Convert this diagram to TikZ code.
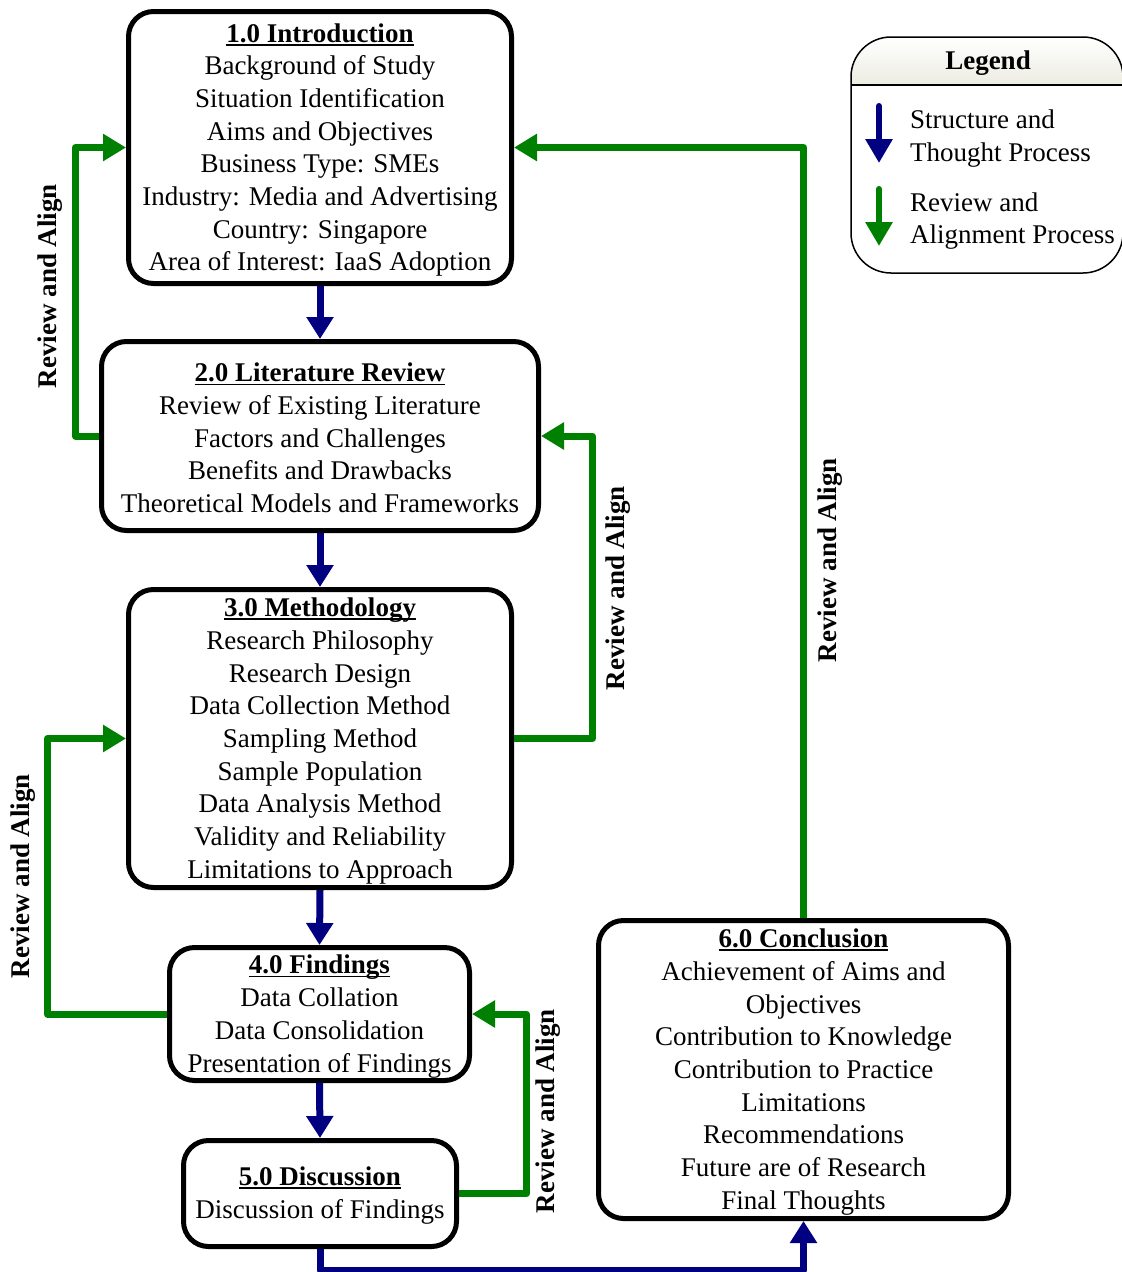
\documentclass[tikz,border=0pt]{standalone}
\usepackage{fontspec}
\setmainfont{Liberation Serif}
\usetikzlibrary{arrows.meta}
\definecolor{flownavy}{HTML}{000080}
\definecolor{revgreen}{HTML}{008000}
\definecolor{legendtint}{HTML}{ECECE2}
% bold heading with a rule just under the baseline
\newcommand{\stagetitle}[1]{\setbox0\hbox{\bfseries #1}\rlap{\rule[-3.5pt]{\wd0}{1.8pt}}\box0}
\begin{document}
\begin{tikzpicture}[x=1pt,y=-1pt,
  stage/.style={draw=black, line width=5pt, rounded corners=25pt, inner sep=0pt},
  stagetext/.style={align=center, inner sep=0pt, font=\fontsize{27}{32.7}\selectfont},
  flow/.style={draw=flownavy, line width=7pt, line join=round,
    -{Triangle[length=22pt,width=26pt]}},
  review/.style={draw=revgreen, line width=7pt, line join=round,
    -{Triangle[length=23pt,width=26pt]}},
  side/.style={rotate=90, font=\fontsize{27}{32.7}\selectfont\bfseries},
  legtext/.style={anchor=west, align=left, inner sep=0pt, font=\fontsize{27}{32.7}\selectfont}]
\useasboundingbox (0,0) rectangle (1122,1272);

% stage frames
\node[stage, minimum width=383pt, minimum height=272pt] (b1) at (320,147.5) {};
\node[stage, minimum width=437pt, minimum height=189pt] (b2) at (320,436) {};
\node[stage, minimum width=383pt, minimum height=298pt] (b3) at (320,738.5) {};
\node[stage, minimum width=300pt, minimum height=133pt] (b4) at (319.5,1014) {};
\node[stage, minimum width=273pt, minimum height=106pt] (b5) at (320,1193.5) {};
\node[stage, minimum width=410pt, minimum height=298pt] (b6) at (803.5,1069.5) {};

% stage contents
\node[stagetext] (b1t) at ([yshift=-2.5pt]b1.center)
  {\stagetitle{1.0 Introduction}\\Background of Study\\Situation Identification\\Aims and Objectives\\Business Type: SMEs\\Industry: Media and Advertising\\Country: Singapore\\Area of Interest: IaaS Adoption};
\node[stagetext] (b2t) at ([yshift=-2pt]b2.center)
  {\stagetitle{2.0 Literature Review}\\Review of Existing Literature\\Factors and Challenges\\Benefits and Drawbacks\\Theoretical Models and Frameworks};
\node[stagetext] (b3t) at ([yshift=-2.5pt]b3.center)
  {\stagetitle{3.0 Methodology}\\Research Philosophy\\Research Design\\Data Collection Method\\Sampling Method\\Sample Population\\Data Analysis Method\\Validity and Reliability\\Limitations to Approach};
\node[stagetext] (b4t) at ([yshift=-2.5pt]b4.center)
  {\stagetitle{4.0 Findings}\\Data Collation\\Data Consolidation\\Presentation of Findings};
\node[stagetext] (b5t) at ([yshift=-2pt]b5.center)
  {\stagetitle{5.0 Discussion}\\Discussion of Findings};
\node[stagetext] (b6t) at ([yshift=-2.5pt]b6.center)
  {\stagetitle{6.0 Conclusion}\\Achievement of Aims and\\Objectives\\Contribution to Knowledge\\Contribution to Practice\\Limitations\\Recommendations\\Future are of Research\\Final Thoughts};

% structure and thought process
\draw[flow] (b1.south) -- (b2.north);
\draw[flow] (b2.south) -- (b3.north);
\draw[flow] (b3.south) -- (b4.north);
\draw[flow] (b4.south) -- (b5.north);
\draw[flow] (b5.south) -- ++(0,21.5) -| (b6.south);

% review and alignment loops
\draw[review] (b2.west) -- ++(-23.5,0) |- (b1.west);
\draw[review] (b3.east) -- ++(78.5,0) |- (b2.east);
\draw[review] (b6.north) |- (b1.east);
\draw[review] (b4.west) -- ++(-119.5,0) |- (b3.west);
\draw[review] (b5.east) -- ++(67.5,0) |- (b4.east);

\node[side] (r1) at (50,286) {Review and Align};
\node[side] (r2) at (618,588) {Review and Align};
\node[side] (r3) at (830,560) {Review and Align};
\node[side] (r4) at (23,876) {Review and Align};
\node[side] (r5) at (548,1111) {Review and Align};

% legend
\shade[top color=white, bottom color=legendtint]
  (851,85) {[rounded corners=40pt] -- (851,37) -- (1123,37)} -- (1123,85) -- cycle;
\draw[line width=1.5pt, rounded corners=40pt] (851,37) rectangle (1123,273);
\draw[line width=1.5pt] (851,85) -- (1123,85);
\node[font=\fontsize{27}{32.7}\selectfont\bfseries] (lg) at (988,63) {Legend};
\coordinate (k1a) at (879,106);
\coordinate (k1b) at (879,163);
\coordinate (k2a) at (879,189);
\coordinate (k2b) at (879,246);
\draw[draw=flownavy, line width=6pt, line cap=round, -{Triangle[length=24pt,width=26pt]}] (k1a) -- (k1b);
\draw[draw=revgreen, line width=6pt, line cap=round, -{Triangle[length=24pt,width=26pt]}] (k2a) -- (k2b);
\node[legtext] (l1) at (910,138.5) {Structure and\\Thought Process};
\node[legtext] (l2) at (910,221) {Review and\\Alignment Process};
\end{tikzpicture}
\end{document}
